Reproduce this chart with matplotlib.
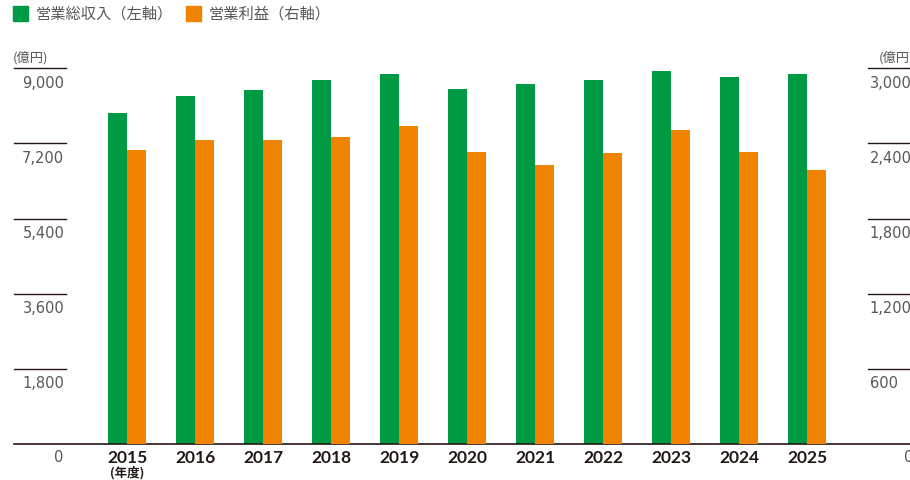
"""営業総収入 / 営業利益 dual-axis bar chart, FY2015-2025.

Saves ``out.png`` (910x481 px).
"""

import matplotlib
matplotlib.use("Agg")
import matplotlib.pyplot as plt
import matplotlib.transforms as mtransforms
import numpy as np

YEARS = ["2015", "2016", "2017", "2018", "2019", "2020",
         "2021", "2022", "2023", "2024", "2025"]
# 営業総収入 (億円, left axis)
REVENUE = [7920, 8330, 8480, 8710, 8860, 8500, 8620, 8710, 8930, 8790, 8860]
# 営業利益 (億円, right axis)
PROFIT = [2350, 2430, 2430, 2450, 2540, 2330, 2230, 2320, 2510, 2330, 2190]

LEFT_TICKS = [1800, 3600, 5400, 7200, 9000]
RIGHT_TICKS = [600, 1200, 1800, 2400, 3000]

GREEN = "#009944"
ORANGE = "#F08300"
TEXT = "#595757"
DARK = "#231815"
JP = ["Noto Sans CJK JP", "DejaVu Sans"]
NUM = ["DejaVu Sans"]
BOLD = ["Lato", "DejaVu Sans"]

W, H = 910, 481


def px(x, y):
    """Pixel position (top-left origin) -> figure fraction."""
    return x / W, 1 - y / H


def main():
    fig = plt.figure(figsize=(W / 100, H / 100), dpi=100)

    # axes: x from pixel 14 to 910, y from baseline 445 up to the 9,000 line (~69)
    left, bottom = px(14, 445)
    _, top = px(0, 69.3)
    ax = fig.add_axes([left, bottom, 1 - left, top - bottom])
    ax2 = ax.twinx()

    x = np.arange(len(YEARS))
    bw = 0.28
    ax.bar(x - bw / 2, REVENUE, width=bw, color=GREEN, linewidth=0)
    ax2.bar(x + bw / 2, PROFIT, width=bw, color=ORANGE, linewidth=0)

    # category centre 0 at pixel 127, spacing 68 px
    x0 = (14 - 127) / 68
    x1 = (910 - 127) / 68
    for a in (ax, ax2):
        a.set_xlim(x0, x1)
        a.axis("off")
    ax.set_ylim(0, 9000)
    ax2.set_ylim(0, 3000)

    # baseline
    ax.axhline(0, color=DARK, lw=1.2, clip_on=False)

    # left tick segments and labels (label sits just under its line)
    tl = mtransforms.blended_transform_factory(ax.transAxes, ax.transData)
    seg = 52 / 896
    for v in LEFT_TICKS:
        ax.plot([0, seg], [v, v], color=DARK, lw=1, transform=tl, clip_on=False)
        ax.text(seg - 0.002, v - 150, f"{v:,}", transform=tl, ha="right", va="top",
                fontsize=10.5, color=TEXT, family=NUM)

    tr = mtransforms.blended_transform_factory(ax2.transAxes, ax2.transData)
    rstart = (868 - 14) / 896
    for v in RIGHT_TICKS:
        ax2.plot([rstart, 1.0], [v, v], color=DARK, lw=1, transform=tr, clip_on=False)
        ax2.text(rstart + 0.002, v - 50, f"{v:,}", transform=tr, ha="left", va="top",
                 fontsize=10.5, color=TEXT, family=NUM)

    # zero labels
    fig.text(*px(63, 458), "0", ha="right", va="center", fontsize=10.5,
             color=TEXT, family=NUM)
    fig.text(*px(904, 458), "0", ha="left", va="center", fontsize=10.5,
             color=TEXT, family=NUM)

    # unit labels
    fig.text(*px(13, 58), "(億円)", ha="left", va="center", fontsize=9.5,
             color=TEXT, family=JP)
    fig.text(*px(879, 58), "(億円)", ha="left", va="center", fontsize=9.5,
             color=TEXT, family=JP)

    # year labels
    for i, yr in enumerate(YEARS):
        fig.text(*px(127 + 68 * i, 458), yr, ha="center", va="center",
                 fontsize=12.5, fontweight="bold", color=DARK, family=BOLD)
    fig.text(*px(127, 473), "(年度)", ha="center", va="center", fontsize=9,
             fontweight="bold", color=DARK, family=JP)

    # legend
    fig.patches.append(plt.Rectangle(px(13, 22), 15 / W, 15 / H, color=GREEN,
                                     transform=fig.transFigure))
    fig.text(*px(36, 14), "営業総収入（左軸）", ha="left", va="center",
             fontsize=11, color=TEXT, family=JP)
    fig.patches.append(plt.Rectangle(px(186, 22), 15 / W, 15 / H, color=ORANGE,
                                     transform=fig.transFigure))
    fig.text(*px(209, 14), "営業利益（右軸）", ha="left", va="center",
             fontsize=11, color=TEXT, family=JP)

    fig.savefig("out.png", dpi=100)


if __name__ == "__main__":
    main()
